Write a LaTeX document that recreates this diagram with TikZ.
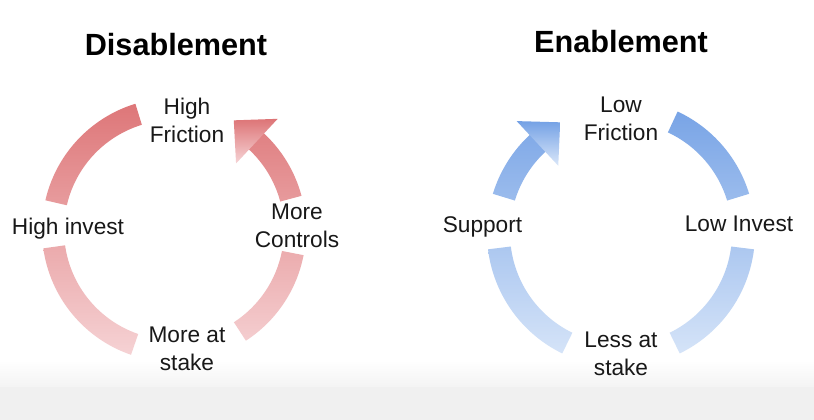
\documentclass[tikz,border=0pt]{standalone}
\usepackage{fontspec}
\setmainfont{Liberation Sans}
\definecolor{redtop}{RGB}{221,116,118}
\definecolor{redbot}{RGB}{246,212,214}
\definecolor{bluetop}{RGB}{116,161,229}
\definecolor{bluebot}{RGB}{218,231,249}
\definecolor{txt}{RGB}{24,24,24}
\tikzset{
  every node/.style={font=\fontsize{17}{21}\selectfont, text=txt, inner sep=0pt},
  cyclabel/.style = {align=center, anchor=north},
  oneline/.style  = {anchor=base},
  heading/.style  = {font=\bfseries\fontsize{23}{27}\selectfont, text=black, anchor=base},
}

\begin{document}
\begin{tikzpicture}[x=0.75pt, y=0.75pt]
  \useasboundingbox (0,0) rectangle (814,420);
  \fill[white] (0,0) rectangle (814,420);

  % ---- grey band at the bottom ----
  \shade[top color=white, bottom color=gray!9] (0,33) rectangle (814,60);
  \fill[gray!12] (0,0) rectangle (814,33);

  % ---- centres of the two cycles ----
  \coordinate (cL) at (174,190);
  \coordinate (cR) at (621,187);

  % ---- disablement cycle (red) ----
  \begin{scope}[shift={(cL)}]
    \begin{scope}
      \clip (107:110) arc[start angle=107, end angle=167, radius=110]
              -- (167:132) arc[start angle=167, end angle=107, radius=132] -- cycle
            (188:110) arc[start angle=188, end angle=251, radius=110]
              -- (251:132) arc[start angle=251, end angle=188, radius=132] -- cycle
            (-57:110) arc[start angle=-57, end angle=-11, radius=110]
              -- (-11:132) arc[start angle=-11, end angle=-57, radius=132] -- cycle
            (15:110) arc[start angle=15, end angle=47.5, radius=110]
              -- (47.5:132) arc[start angle=47.5, end angle=15, radius=132] -- cycle;
      \shade[top color=redtop, bottom color=redbot] (-140,-130) rectangle (170,133);
    \end{scope}
    % arrow head
    \shade[top color=redtop, middle color=redtop!80!redbot, bottom color=redbot]
      (47:91) -- (61.4:124.9) -- (47:152) -- cycle;
  \end{scope}

  % ---- enablement cycle (blue) ----
  \begin{scope}[shift={(cR)}]
    \begin{scope}
      \clip (17:111) arc[start angle=17, end angle=65, radius=111]
              -- (65:134) arc[start angle=65, end angle=17, radius=134] -- cycle
            (-64:111) arc[start angle=-64, end angle=-7, radius=111]
              -- (-7:134) arc[start angle=-7, end angle=-64, radius=134] -- cycle
            (187:111) arc[start angle=187, end angle=244, radius=111]
              -- (244:134) arc[start angle=244, end angle=187, radius=134] -- cycle
            (163:111) arc[start angle=163, end angle=132.5, radius=111]
              -- (132.5:134) arc[start angle=132.5, end angle=163, radius=134] -- cycle;
      \shade[top color=bluetop, bottom color=bluebot] (-140,-134) rectangle (140,134);
    \end{scope}
    % arrow head
    \shade[top color=bluetop, middle color=bluetop!80!bluebot, bottom color=bluebot]
      (133:92) -- (118.8:126.3) -- (133:153) -- cycle;
  \end{scope}

  % ---- titles ----
  \node[heading] (titleL) at (176,364) {Disablement};
  \node[heading] (titleR) at (621,367) {Enablement};

  % ---- labels, left cycle ----
  \node[cyclabel] (hifric)    at (187,322) {High\\Friction};
  \node[cyclabel] (morectl)   at (297,216) {More\\Controls};
  \node[cyclabel] (morestake) at (187,93)  {More at\\stake};
  \node[oneline]  (hiinv)     at (68,185)  {High invest};

  % ---- labels, right cycle ----
  \node[cyclabel] (lofric)    at (621,323) {Low\\Friction};
  \node[cyclabel] (lessstake) at (621,88)  {Less at\\stake};
  \node[oneline]  (loinv)     at (739,188) {Low Invest};
  \node[oneline]  (support)   at (482.5,187) {Support};
\end{tikzpicture}
\end{document}
